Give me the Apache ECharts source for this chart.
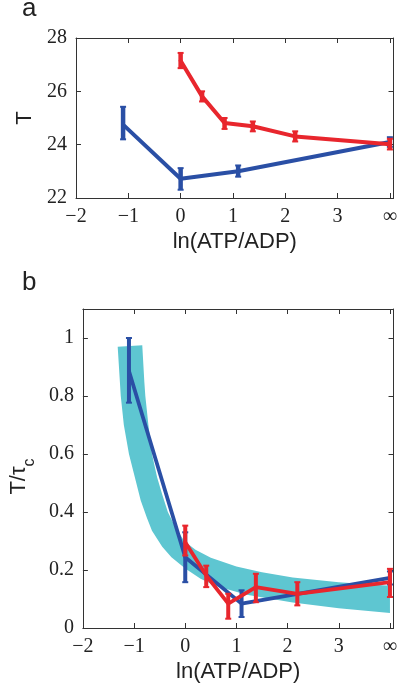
<!DOCTYPE html>
<html>
<head>
<meta charset="utf-8">
<script src="https://cdn.jsdelivr.net/npm/echarts@6/dist/echarts.min.js"></script>
<style>
html,body{margin:0;padding:0;background:#fff;}
#chart{width:400px;height:685px;}
</style>
</head>
<body>
<div id="chart"></div>
<script>
// ---------- data ----------
var xTicks = [-2, -1, 0, 1, 2, 3, 4];           // 4 is shown as ∞
var xTickLabels = ['\u22122', '\u22121', '0', '1', '2', '3', '\u221e'];

// panel a : T
var aBlueX  = [-1.1, 0, 1.1, 4];
var aBlueY  = [24.75, 22.72, 23.0, 24.1];
var aBlueLo = [24.2, 22.31, 22.8, 23.92];
var aBlueHi = [25.42, 23.12, 23.22, 24.28];

var aRedX  = [0, 0.41, 0.84, 1.38, 2.19, 4];
var aRedY  = [27.15, 25.81, 24.81, 24.69, 24.31, 24.02];
var aRedLo = [26.87, 25.62, 24.59, 24.5, 24.12, 23.82];
var aRedHi = [27.44, 26.0, 25.0, 24.87, 24.5, 24.22];

// panel b : T/tau_c
var bBlueX  = [-1.1, 0, 1.1, 4];
var bBlueY  = [0.886, 0.244, 0.084, 0.173];
var bBlueLo = [0.777, 0.158, 0.038, 0.15];
var bBlueHi = [1.0, 0.33, 0.13, 0.195];

var bRedX  = [0, 0.41, 0.84, 1.38, 2.19, 4];
var bRedY  = [0.296, 0.181, 0.084, 0.141, 0.118, 0.158];
var bRedLo = [0.25, 0.141, 0.032, 0.089, 0.078, 0.107];
var bRedHi = [0.353, 0.215, 0.118, 0.187, 0.158, 0.204];

// cyan band (upper and lower edges)
var bandUpperX = [-0.84, -0.8, -0.78, -0.72, -0.65, -0.55, -0.45, -0.34, -0.2, -0.02, 0.2, 0.5, 1.0, 1.5, 2.1, 3.0, 4.0];
var bandUpperY = [0.975, 0.85, 0.8, 0.7, 0.6, 0.52, 0.46, 0.4, 0.35, 0.3, 0.27, 0.242, 0.212, 0.192, 0.174, 0.158, 0.146];
var bandLowerX = [-1.32, -1.26, -1.2, -1.1, -1.0, -0.87, -0.75, -0.65, -0.45, -0.27, 0.0, 0.3, 0.6, 1.2, 2.1, 3.0, 4.0];
var bandLowerY = [0.97, 0.8, 0.7, 0.6, 0.53, 0.44, 0.38, 0.335, 0.28, 0.244, 0.205, 0.17, 0.145, 0.115, 0.088, 0.068, 0.052];

// ---------- helpers ----------
var RED = '#e8262d', BLUE = '#2a4fa5', CYAN = '#5ec6d1', AX = '#333';
var SERIF = 'Liberation Serif';
var SANS = 'Liberation Sans';

function pairs(xs, ys) { return xs.map(function (x, i) { return [x, ys[i]]; }); }
function triples(xs, lo, hi) { return xs.map(function (x, i) { return [x, lo[i], hi[i]]; }); }

function xLabel(v) {
  var i = xTicks.indexOf(Math.round(v * 1000) / 1000);
  return i >= 0 ? xTickLabels[i] : '';
}

function xAxes(gi) {
  return [{
    type: 'value', gridIndex: gi, min: -2, max: 4.07, interval: 1, position: 'bottom',
    axisLine: { show: true, onZero: false, lineStyle: { color: AX, width: 1 } },
    axisTick: { show: true, inside: true, length: 5, lineStyle: { color: AX } },
    axisLabel: { formatter: xLabel, fontFamily: SERIF, fontSize: 20, color: '#222', margin: 9 },
    splitLine: { show: false },
    name: 'ln(ATP/ADP)', nameLocation: 'middle', nameGap: 33,
    nameTextStyle: { fontFamily: SANS, fontSize: 22, color: '#222' }
  }, {
    type: 'value', gridIndex: gi, min: -2, max: 4.07, interval: 1, position: 'top',
    axisLine: { show: true, onZero: false, lineStyle: { color: AX, width: 1 } },
    axisTick: { show: true, inside: true, length: 5, lineStyle: { color: AX } },
    axisLabel: { show: false }, splitLine: { show: false }
  }];
}

function yAxes(gi, min, max, interval, fmt, name, nameGap, rich, pad) {
  var ns = { fontFamily: SANS, fontSize: 22, color: '#222' };
  if (rich) ns.rich = rich;
  if (pad) ns.padding = pad;
  return [{
    type: 'value', gridIndex: gi, min: min, max: max, interval: interval, position: 'left',
    axisLine: { show: true, onZero: false, lineStyle: { color: AX, width: 1 } },
    axisTick: { show: true, inside: true, length: 5, lineStyle: { color: AX } },
    axisLabel: { formatter: fmt, fontFamily: SERIF, fontSize: 20, color: '#222', margin: 9 },
    splitLine: { show: false },
    name: name, nameLocation: 'middle', nameGap: nameGap, nameTextStyle: ns
  }, {
    type: 'value', gridIndex: gi, min: min, max: max, interval: interval, position: 'right',
    axisLine: { show: true, onZero: false, lineStyle: { color: AX, width: 1 } },
    axisTick: { show: true, inside: true, length: 5, lineStyle: { color: AX } },
    axisLabel: { show: false }, splitLine: { show: false }
  }];
}

function lineSeries(xi, yi, xs, ys, color, width, z) {
  return {
    type: 'line', xAxisIndex: xi, yAxisIndex: yi, data: pairs(xs, ys),
    symbol: 'none', z: z, silent: true, animation: false,
    lineStyle: { color: color, width: width, join: 'round', cap: 'round' }
  };
}

function errSeries(xi, yi, xs, lo, hi, color, width, z) {
  return {
    type: 'custom', xAxisIndex: xi, yAxisIndex: yi, data: triples(xs, lo, hi),
    z: z, silent: true, animation: false,
    encode: { x: 0, y: [1, 2] },
    renderItem: function (params, api) {
      var p1 = api.coord([api.value(0), api.value(1)]);
      var p2 = api.coord([api.value(0), api.value(2)]);
      var cw = 3;
      return {
        type: 'group', children: [
          { type: 'line', shape: { x1: p1[0], y1: p1[1], x2: p2[0], y2: p2[1] }, style: { stroke: color, lineWidth: width } },
          { type: 'line', shape: { x1: p1[0] - cw, y1: p1[1], x2: p1[0] + cw, y2: p1[1] }, style: { stroke: color, lineWidth: 2 } },
          { type: 'line', shape: { x1: p2[0] - cw, y1: p2[1], x2: p2[0] + cw, y2: p2[1] }, style: { stroke: color, lineWidth: 2 } }
        ]
      };
    }
  };
}

var bandData = pairs(bandUpperX, bandUpperY).concat(pairs(bandLowerX, bandLowerY).reverse());

var bandSeries = {
  type: 'custom', xAxisIndex: 2, yAxisIndex: 2, data: bandData, z: 1, silent: true, animation: false,
  encode: { x: 0, y: 1 },
  renderItem: function (params, api) {
    if (params.dataIndex !== 0) return null;
    var pts = bandData.map(function (d) { return api.coord(d); });
    return { type: 'polygon', shape: { points: pts }, style: { fill: CYAN, stroke: null } };
  }
};

var option = {
  backgroundColor: '#fff',
  animation: false,
  grid: [
    { left: 76, top: 38, width: 318, height: 160, containLabel: false },
    { left: 76, top: 309, width: 318, height: 319, containLabel: false }
  ],
  xAxis: xAxes(0).concat(xAxes(1)),
  yAxis: yAxes(0, 22, 28, 2, function (v) { return String(v); }, 'T', 40)
    .concat(yAxes(1, 0, 1.1, 0.2, function (v) {
      if (v > 1.05) return '';
      var r = Math.round(v * 10) / 10;
      return String(r);
    }, '{a|T/\u03c4}{b|c}', 44, {
      a: { fontFamily: SANS, fontSize: 22, color: '#222', verticalAlign: 'top', lineHeight: 30 },
      b: { fontFamily: SANS, fontSize: 16, color: '#222', verticalAlign: 'bottom', lineHeight: 30 }
    }, [0, 16, 0, 0])),
  graphic: [
    { type: 'text', left: 22, top: -4, style: { text: 'a', font: '26px Liberation Sans', fill: '#222' } },
    { type: 'text', left: 22, top: 270, style: { text: 'b', font: '26px Liberation Sans', fill: '#222' } }
  ],
  series: [
    lineSeries(0, 0, aBlueX, aBlueY, BLUE, 4, 3),
    errSeries(0, 0, aBlueX, aBlueLo, aBlueHi, BLUE, 4.5, 4),
    lineSeries(0, 0, aRedX, aRedY, RED, 4, 5),
    errSeries(0, 0, aRedX, aRedLo, aRedHi, RED, 4.5, 6),
    bandSeries,
    lineSeries(2, 2, bBlueX, bBlueY, BLUE, 3.8, 3),
    errSeries(2, 2, bBlueX, bBlueLo, bBlueHi, BLUE, 4, 4),
    lineSeries(2, 2, bRedX, bRedY, RED, 3.8, 5),
    errSeries(2, 2, bRedX, bRedLo, bRedHi, RED, 4, 6)
  ]
};

var chart = echarts.init(document.getElementById('chart'), null, { renderer: 'canvas' });
chart.setOption(option);
</script>
</body>
</html>
